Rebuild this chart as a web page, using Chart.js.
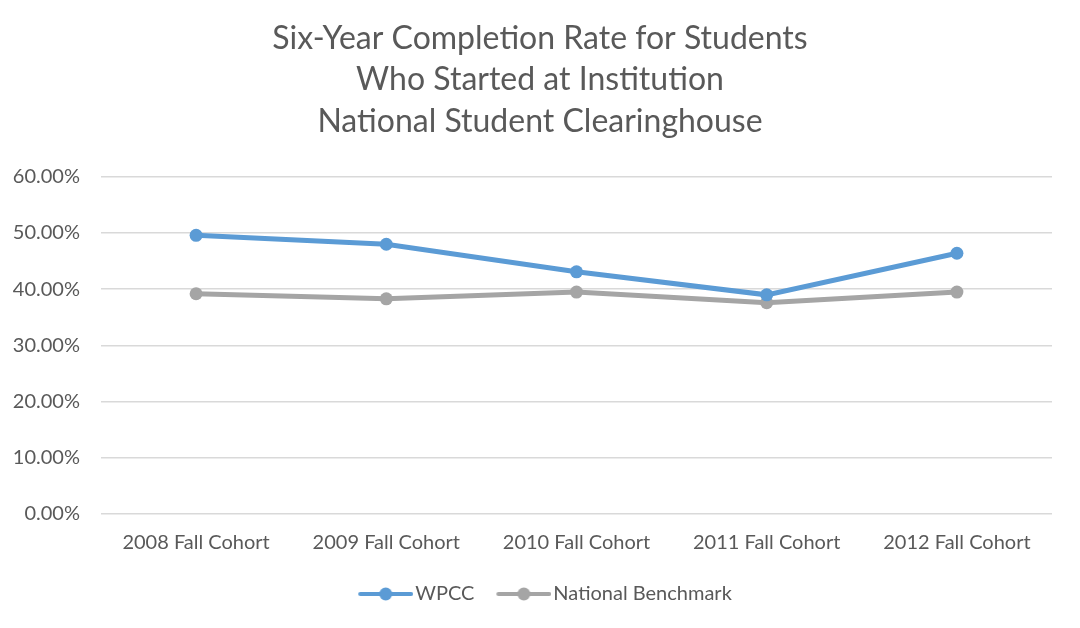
<!DOCTYPE html>
<html>
<head>
<meta charset="utf-8">
<script src="https://cdn.jsdelivr.net/npm/chart.js@4.4.1/dist/chart.umd.min.js"></script>
<style>
  html, body { margin: 0; padding: 0; background: #fff; }
  #wrap { width: 1080px; height: 628px; }
</style>
</head>
<body>
<div id="wrap"><canvas id="grafico"></canvas></div>
<script>
// dati
const categorie = ["2008 Fall Cohort", "2009 Fall Cohort", "2010 Fall Cohort", "2011 Fall Cohort", "2012 Fall Cohort"];
const valoriWPCC = [49.6, 48.0, 43.1, 39.0, 46.4];
const valoriNazionali = [39.2, 38.3, 39.5, 37.6, 39.5];
const tickY = [0, 10, 20, 30, 40, 50, 60];
const titolo = ["Six-Year Completion Rate for Students", "Who Started at Institution", "National Student Clearinghouse"];

const testoGrigio = "#595959";
const blu = "#5B9BD5";
const grigio = "#A5A5A5";
const font = "Lato, 'Open Sans', sans-serif";

// icona della legenda: linea con pallino, spostata a destra dentro l'immagine
function iconaLegenda(colore) {
  const c = document.createElement("canvas");
  c.width = 73; c.height = 16;
  const g = c.getContext("2d");
  g.strokeStyle = colore;
  g.lineWidth = 4;
  g.lineCap = "round";
  g.beginPath(); g.moveTo(20, 8); g.lineTo(71, 8); g.stroke();
  g.fillStyle = colore;
  g.beginPath(); g.arc(45.5, 8, 6.5, 0, Math.PI * 2); g.fill();
  return c;
}

document.addEventListener("DOMContentLoaded", function () {
  const ctx = document.getElementById("grafico").getContext("2d");

  new Chart(ctx, {
    type: "line",
    data: {
      labels: categorie,
      datasets: [
        {
          label: "WPCC",
          data: valoriWPCC,
          borderColor: blu,
          backgroundColor: blu,
          borderWidth: 5,
          pointRadius: 6.5,
          pointHoverRadius: 6.5,
          pointBorderWidth: 0,
          tension: 0,
        },
        {
          label: "National Benchmark",
          data: valoriNazionali,
          borderColor: grigio,
          backgroundColor: grigio,
          borderWidth: 5,
          pointRadius: 6.5,
          pointHoverRadius: 6.5,
          pointBorderWidth: 0,
          tension: 0,
        },
      ],
    },
    options: {
      responsive: true,
      maintainAspectRatio: false,
      animation: false,
      layout: { padding: { left: 0, right: 0, top: 0, bottom: 14 } },
      plugins: {
        title: {
          display: true,
          text: titolo,
          color: testoGrigio,
          font: { family: font, size: 32, weight: "normal", lineHeight: 1.29 },
          padding: { top: 18, bottom: 35 },
        },
        legend: {
          position: "bottom",
          labels: {
            color: testoGrigio,
            font: { family: font, size: 20 },
            usePointStyle: true,
            pointStyleWidth: 57,
            padding: 12,
            generateLabels: function (chart) {
              return chart.data.datasets.map(function (ds, i) {
                return {
                  text: ds.label,
                  fontColor: testoGrigio,
                  pointStyle: iconaLegenda(ds.borderColor),
                  datasetIndex: i,
                  hidden: false,
                  lineWidth: 0,
                };
              });
            },
          },
        },
        tooltip: { enabled: false },
      },
      scales: {
        x: {
          offset: true,
          grid: { display: false, drawTicks: false },
          border: { display: false },
          ticks: { color: testoGrigio, font: { family: font, size: 20 }, padding: 17 },
        },
        y: {
          min: 0,
          max: 60,
          afterBuildTicks: function (scale) {
            scale.ticks = tickY.map(function (v) { return { value: v }; });
          },
          afterFit: function (scale) { scale.width = 101; },
          grid: { color: "#D9D9D9", lineWidth: 1.5, drawTicks: false },
          border: { display: false },
          ticks: {
            color: testoGrigio,
            font: { family: font, size: 20 },
            padding: 21,
            callback: function (v) { return v.toFixed(2) + "%"; },
          },
        },
        // asse vuoto a destra: solo margine, così titolo e legenda restano centrati
        margineDestro: {
          position: "right",
          grid: { display: false },
          border: { display: false },
          ticks: { display: false },
          afterFit: function (scale) { scale.width = 28; },
        },
      },
    },
  });
});
</script>
</body>
</html>
